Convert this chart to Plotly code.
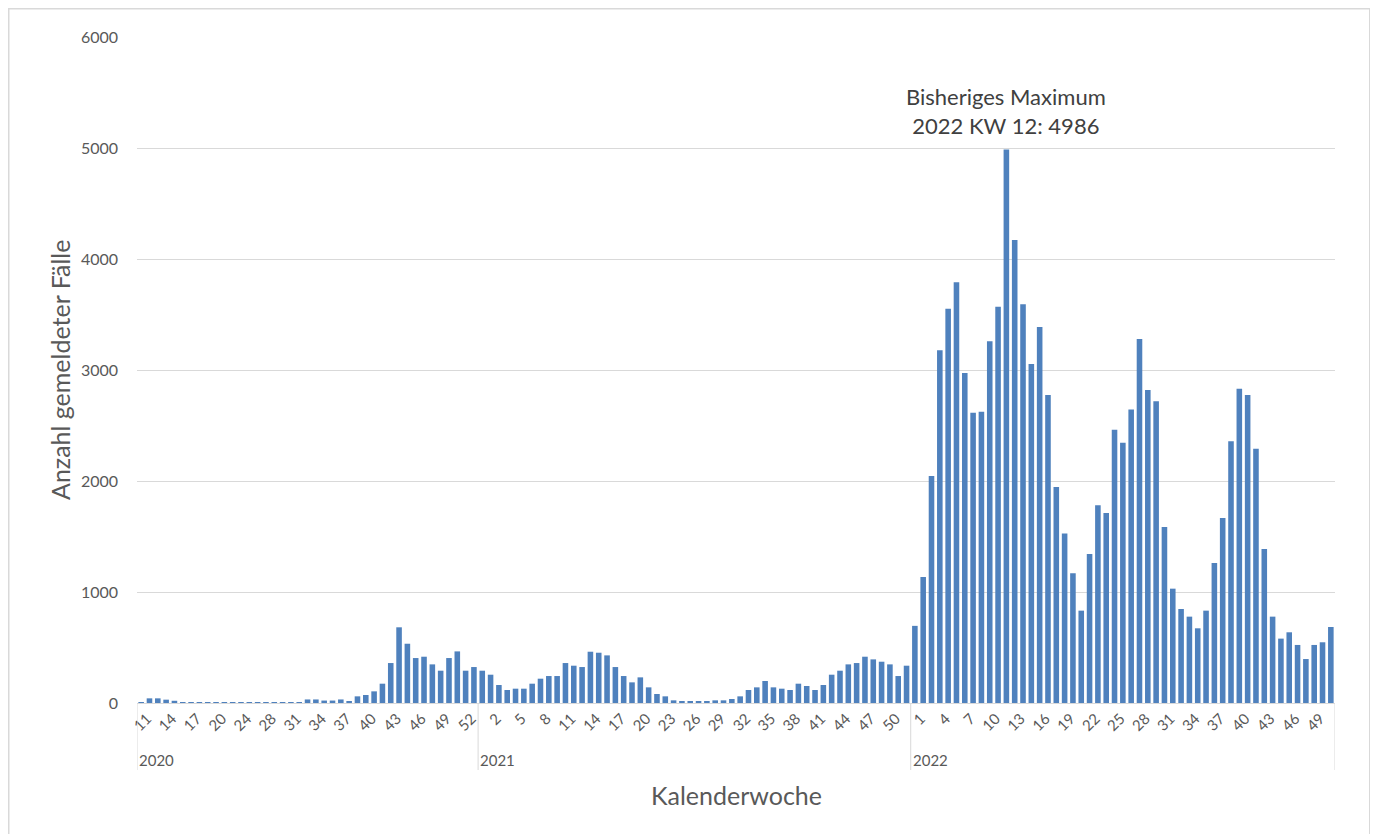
import plotly.graph_objects as go

# ---------------- data ----------------
years = [2020, 2021, 2022]

weeks_2020 = [11, 12, 13, 14, 15, 16, 17, 18, 19, 20, 21, 23, 24, 25, 27, 28,
              29, 30, 31, 32, 33, 34, 35, 36, 37, 38, 39, 40, 41, 42, 43, 44,
              45, 46, 47, 48, 49, 50, 51, 52, 53]
cases_2020 = [8, 42, 42, 30, 20, 8, 8, 8, 8, 8, 8, 8, 8, 8, 8, 8,
              8, 8, 8, 8, 32, 32, 22, 22, 32, 10, 60, 72, 105, 174, 360, 682,
              534, 405, 417, 348, 291, 405, 465, 291, 324]

weeks_2021 = list(range(1, 53))
cases_2021 = [291, 255, 162, 117, 129, 129, 174, 219, 243, 243, 360, 336, 324,
              462, 453, 429, 324, 243, 186, 231, 141, 81, 60, 24, 12, 12,
              12, 12, 24, 24, 36, 60, 117, 141, 198, 141, 129, 117, 174,
              153, 117, 162, 255, 291, 348, 360, 417, 393, 372, 348, 243, 336]

weeks_2022 = list(range(1, 52))
cases_2022 = [695, 1135, 2046, 3178, 3551, 3790, 2972, 2614, 2625, 3260,
              3570, 4986, 4171, 3592, 3054, 3387, 2774, 1945, 1527, 1169,
              832, 1342, 1781, 1712, 2462, 2345, 2645, 3279, 2820, 2718,
              1586, 1030, 847, 778, 673, 832, 1261, 1667, 2357, 2832,
              2775, 2291, 1387, 778, 580, 637, 523, 396, 523, 547, 685]

y_ticks = [0, 1000, 2000, 3000, 4000, 5000, 6000]
tick_step = 3

# ---------------- build ----------------
weeks_by_year = [weeks_2020, weeks_2021, weeks_2022]
cases_by_year = [cases_2020, cases_2021, cases_2022]

all_weeks, all_cases, all_years = [], [], []
for yr, wk, cs in zip(years, weeks_by_year, cases_by_year):
    all_weeks += wk
    all_cases += cs
    all_years += [yr] * len(wk)
idx = list(range(len(all_cases)))

FONT = "Lato, Carlito, Calibri, 'Open Sans', sans-serif"
GRID = "#d9d9d9"
TXT = "#595959"

W, H = 1370, 826
ML, MR, MT, MB = 129, 43, 29, 131
PW = W - ML - MR
PH = H - MT - MB

fig = go.Figure(go.Bar(
    x=idx, y=all_cases,
    marker=dict(color="#4F81BD", line=dict(width=0)),
    hovertext=[f"{y} KW {w}" for y, w in zip(all_years, all_weeks)],
))

# year separators + year labels
shapes = []
annotations = []
start = 0
for yr, wk in zip(years, weeks_by_year):
    shapes.append(dict(type="line", xref="x", yref="paper",
                       x0=start - 0.5, x1=start - 0.5, y0=0, y1=-67 / PH,
                       line=dict(color=GRID, width=1)))
    annotations.append(dict(xref="x", yref="paper", x=start - 0.5, y=-57 / PH,
                            text=str(yr), showarrow=False, xanchor="left",
                            yanchor="middle", xshift=0,
                            font=dict(family=FONT, size=15, color=TXT)))
    start += len(wk)
shapes.append(dict(type="line", xref="x", yref="paper",
                   x0=start - 0.5, x1=start - 0.5, y0=0, y1=-67 / PH,
                   line=dict(color=GRID, width=1)))

# outer chart border
shapes.append(dict(type="rect", xref="paper", yref="paper",
                   x0=(0.5 - ML) / PW, x1=(1362 - ML) / PW,
                   y0=(MT + PH - 840) / PH, y1=(MT + PH - 0.5) / PH,
                   line=dict(color=GRID, width=2), fillcolor="rgba(0,0,0,0)"))

# maximum annotation
imax = max(idx, key=lambda i: all_cases[i])
annotations.append(dict(
    xref="x", yref="y", x=imax, y=all_cases[imax],
    text=f"Bisheriges Maximum<br>{all_years[imax]} KW {all_weeks[imax]}: {all_cases[imax]}",
    showarrow=False, yanchor="bottom", yshift=9,
    font=dict(family=FONT, size=22, color="#404040"),
))

# axis titles
annotations.append(dict(xref="paper", yref="paper", x=(52 - ML) / PW, y=0.5,
                        text="Anzahl gemeldeter Fälle", textangle=-90,
                        showarrow=False, xanchor="center", yanchor="middle",
                        font=dict(family=FONT, size=25, color=TXT)))
annotations.append(dict(xref="paper", yref="paper", x=0.5, y=-92 / PH,
                        text="Kalenderwoche", showarrow=False,
                        xanchor="center", yanchor="middle",
                        font=dict(family=FONT, size=25, color=TXT)))

fig.update_layout(
    width=W, height=H,
    margin=dict(l=ML, r=MR, t=MT, b=MB),
    plot_bgcolor="white", paper_bgcolor="white",
    bargap=0.33, showlegend=False,
    font=dict(family=FONT, color=TXT),
    shapes=shapes, annotations=annotations,
)
fig.update_xaxes(
    range=[-0.5, len(idx) - 0.5],
    tickmode="array",
    tickvals=idx[::tick_step],
    ticktext=[str(w) for w in all_weeks[::tick_step]],
    tickangle=-45,
    tickfont=dict(family=FONT, size=15, color=TXT),
    ticklabelshift=6,
    showgrid=False, zeroline=False,
    showline=True, linecolor=GRID, linewidth=1,
    ticks="",
)
fig.update_yaxes(
    range=[0, 6000],
    tickmode="array", tickvals=y_ticks,
    tickfont=dict(family=FONT, size=16, color=TXT),
    showgrid=True, gridcolor=GRID, gridwidth=1,
    zeroline=False, showline=False,
    ticks="", ticklabelstandoff=18,
)

fig.write_html("out.html")
